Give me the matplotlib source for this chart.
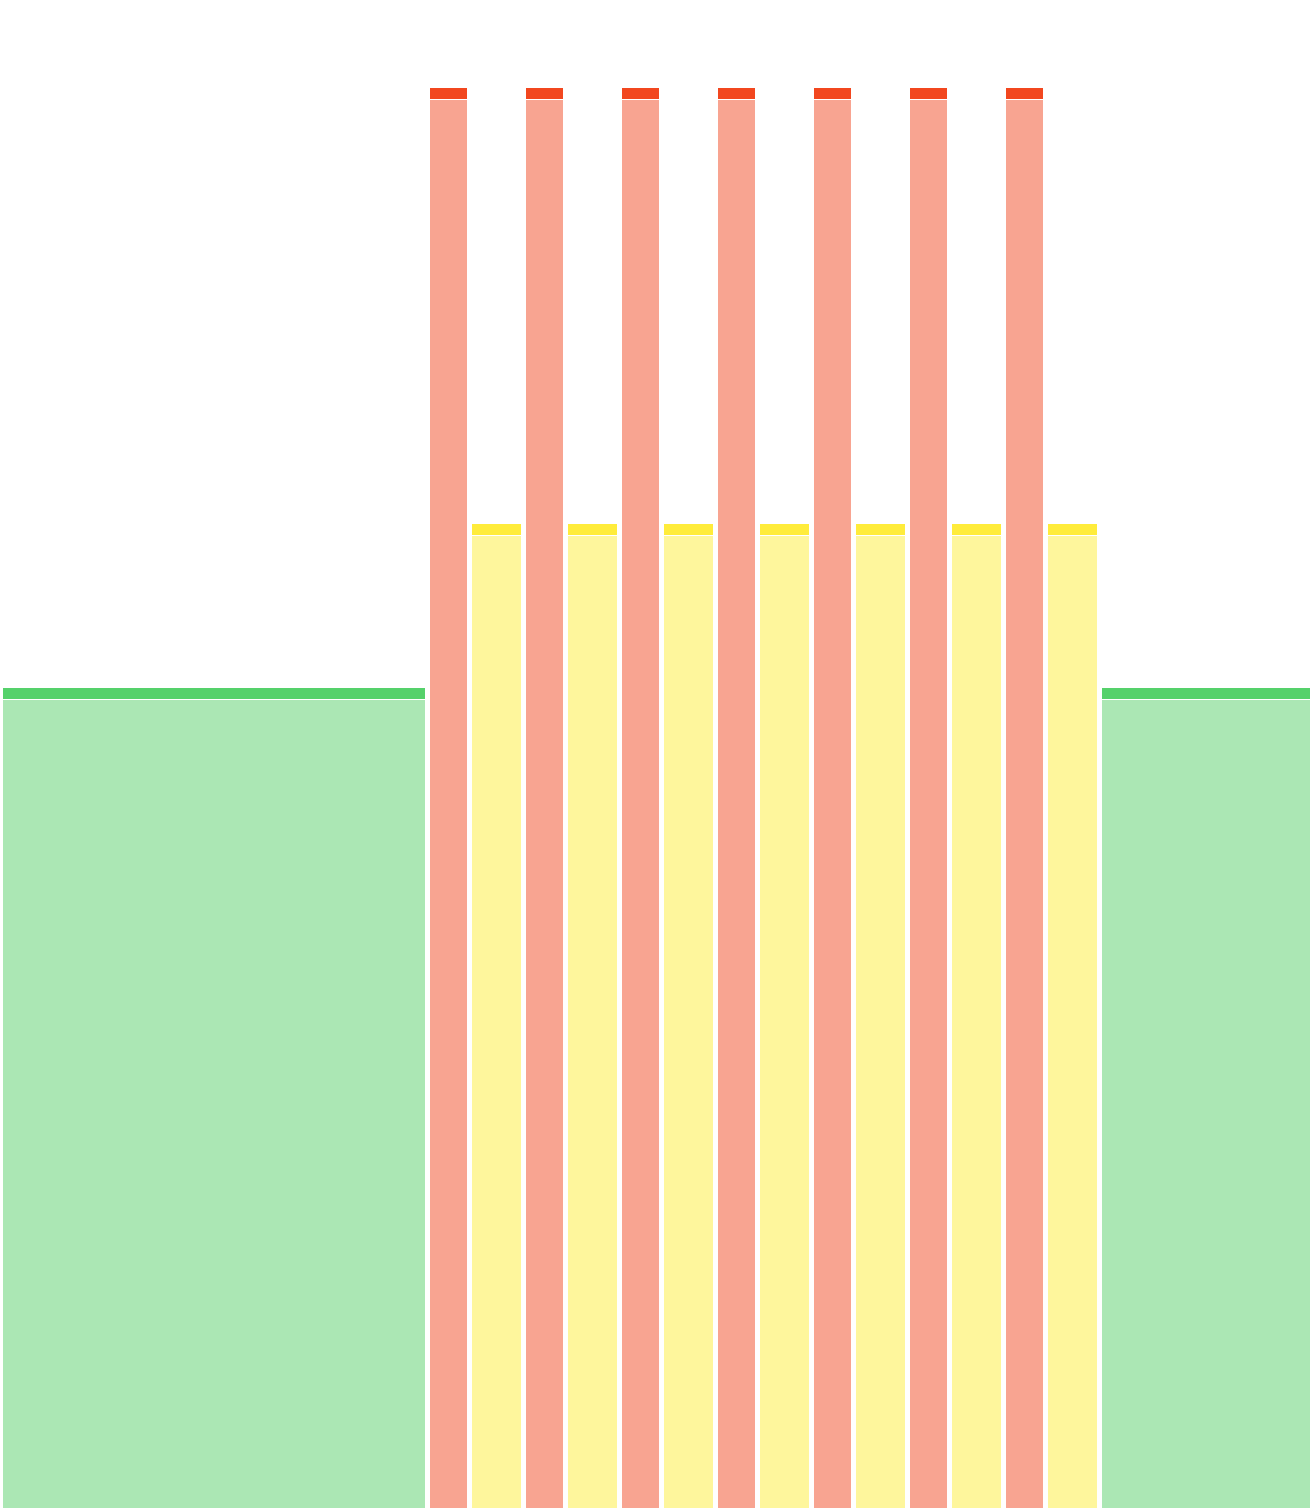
import matplotlib
matplotlib.use('Agg')
import matplotlib.pyplot as plt

# timeline segments: state and duration, plus the height of each state
states = ['green'] + ['red', 'yellow'] * 7 + ['green']
durations = [427] + [42, 54] * 7 + [212.5]
levels = {'green': 820, 'red': 1420, 'yellow': 984}

body_colors = {'green': '#abe7b4', 'red': '#f8a491', 'yellow': '#fef69c'}
cap_colors = {'green': '#55d16b', 'red': '#f2471f', 'yellow': '#ffec3b'}

GAP = 4.5
CAP = 10.5
LINE = 1.5

fig = plt.figure(figsize=(13.12, 15.08), dpi=100)
ax = fig.add_axes([0, 0, 1, 1])

start = 0.5
for state, dur in zip(states, durations):
    left = start + GAP / 2
    w = dur - GAP
    top = levels[state]
    ax.bar(left, top - CAP - LINE, width=w, align='edge',
           color=body_colors[state], linewidth=0)
    ax.bar(left, CAP, width=w, bottom=top - CAP, align='edge',
           color=cap_colors[state], linewidth=0)
    start += dur

ax.set_xlim(0, 1312)
ax.set_ylim(0, 1508)
ax.axis('off')

fig.savefig('out.png', dpi=100)
plt.close()
